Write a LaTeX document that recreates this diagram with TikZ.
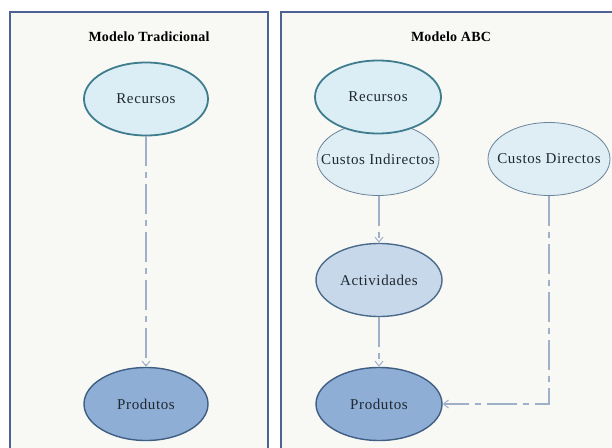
\documentclass[tikz,border=0pt]{standalone}
\usepackage{fontspec}
\setmainfont{Liberation Serif}
\newfontfamily\ovalfont[LetterSpace=4]{Liberation Serif}
\newfontfamily\titlefont[LetterSpace=1.5]{Liberation Serif}
\usetikzlibrary{shapes.geometric,arrows.meta}
\definecolor{paper}{HTML}{F8F9F5}
\definecolor{frameblue}{HTML}{4E6394}
\definecolor{linkgray}{HTML}{9FB0C8}
\definecolor{recfill}{HTML}{DCEEF5}
\definecolor{recdraw}{HTML}{3F7C8E}
\definecolor{cusfill}{HTML}{DFEEF5}
\definecolor{cusdraw}{HTML}{6A8398}
\definecolor{actfill}{HTML}{C7D8EA}
\definecolor{actdraw}{HTML}{4C6B8C}
\definecolor{profill}{HTML}{8EAED6}
\definecolor{prodraw}{HTML}{3F5E82}
\definecolor{inktext}{HTML}{202830}
\tikzset{
  panel/.style={draw=frameblue, line width=1.6pt, fill=paper},
  oval/.style={ellipse, minimum width=124pt, minimum height=73pt,
    inner xsep=-22pt, inner ysep=0pt,
    font=\ovalfont\fontsize{15}{17}\selectfont, text=inktext},
  recurso/.style={oval, fill=recfill, draw=recdraw, line width=1.8pt},
  custo/.style={oval, fill=cusfill, draw=cusdraw, line width=0.8pt},
  actividade/.style={oval, fill=actfill, draw=actdraw, line width=1.4pt},
  produto/.style={oval, fill=profill, draw=prodraw, line width=1.4pt},
  title/.style={font=\titlefont\bfseries\fontsize{14}{16}\selectfont, text=black},
  link/.style={draw=linkgray, line width=1.4pt,
    dash pattern=on 30pt off 6pt on 6pt off 6pt,
    -{Straight Barb[length=5pt,width=8pt,line width=1pt]}}
}
\begin{document}
\begin{tikzpicture}[x=1pt,y=-1pt]
  \useasboundingbox[fill=white] (0,0) rectangle (612,447);
  % the two framed panels, running past the lower edge
  \draw[panel] (10,12) rectangle (268,460);
  \draw[panel] (281,12) rectangle (630,460);
  \node[title] (t1) at (149,37) {Modelo Tradicional};
  \node[title] (t2) at (451,37) {Modelo ABC};

  % traditional model
  \node[recurso] (r1) at (146,99) {Recursos};
  \node[produto] (p1) at (146,404) {Produtos};
  \draw[link] (r1) -- (p1);

  % activity based model
  \node[custo, minimum width=122pt] (ci) at (378,159) {Custos Indirectos};
  \node[recurso, minimum width=126pt] (r2) at (378,97) {Recursos};
  \node[custo, minimum width=122pt] (cd) at (549,159) {Custos Directos};
  \node[actividade, minimum width=126pt] (ac) at (379,280) {Actividades};
  \node[produto, minimum width=126pt] (p2) at (379,404) {Produtos};
  \coordinate (bend) at (cd.south |- p2.east);
  \draw[link] (ci.south -| ac.north) -- (ac.north);
  \draw[link] (ac) -- (p2);
  \draw[link] (cd.south) -- (bend) -- (p2.east);
\end{tikzpicture}
\end{document}
